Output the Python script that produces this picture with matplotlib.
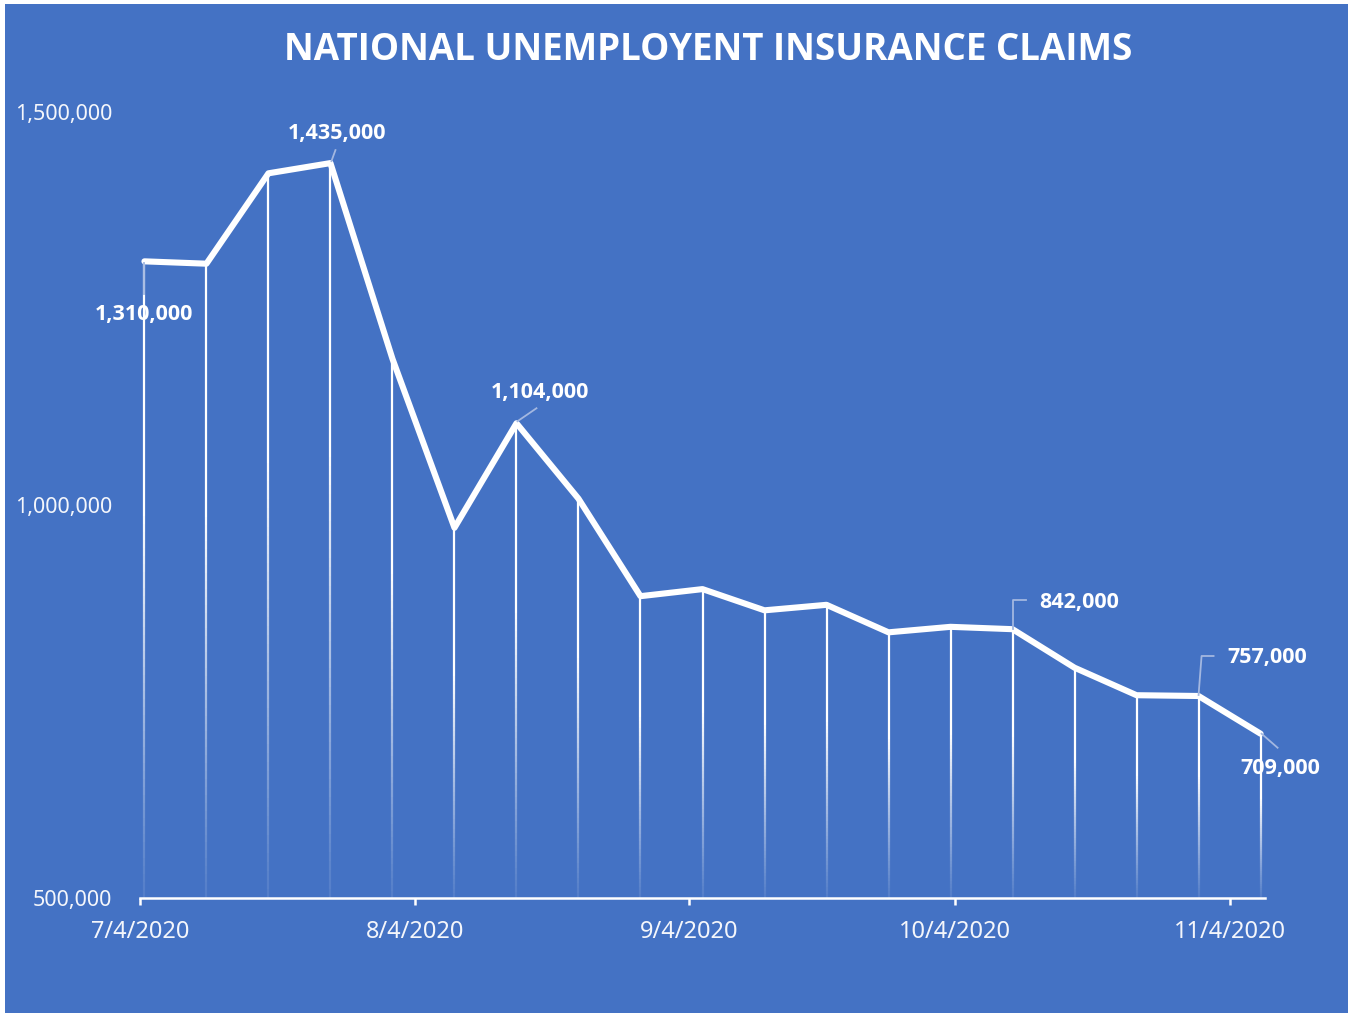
import numpy as np
import matplotlib
matplotlib.use("Agg")
import matplotlib.pyplot as plt
import matplotlib.dates as mdates
from matplotlib.collections import LineCollection
from matplotlib.patches import Rectangle
from matplotlib.lines import Line2D

# weekly initial claims, week ending dates
weeks = np.array(['2020-07-04', '2020-07-11', '2020-07-18', '2020-07-25', '2020-08-01',
                  '2020-08-08', '2020-08-15', '2020-08-22', '2020-08-29', '2020-09-05',
                  '2020-09-12', '2020-09-19', '2020-09-26', '2020-10-03', '2020-10-10',
                  '2020-10-17', '2020-10-24', '2020-10-31', '2020-11-07'], dtype='datetime64[D]')
claims = [1310000, 1307000, 1422000, 1435000, 1186000,
          971000, 1104000, 1008000, 884000, 893000,
          866000, 873000, 838000, 845000, 842000,
          793000, 758000, 757000, 709000]
labeled = ['2020-07-04', '2020-07-25', '2020-08-15', '2020-10-10', '2020-10-31', '2020-11-07']
tick_dates = ['2020-07-04', '2020-08-04', '2020-09-04', '2020-10-04', '2020-11-04']
y_ticks = [500000, 1000000, 1500000]

BLUE = '#4472C4'
LEADER = '#A3B7E0'

fig = plt.figure(figsize=(13.51, 10.17), dpi=100, facecolor='white')
fig.patches.append(Rectangle((5 / 1351, 1 - 1013 / 1017), 1343 / 1351, 1009 / 1017,
                             transform=fig.transFigure, facecolor=BLUE, edgecolor='none', zorder=-5))

ax = fig.add_axes([140 / 1351, 1 - 898 / 1017, 1125 / 1351, 786 / 1017])
ax.set_facecolor('none')
ax.set_zorder(1)

# points sit mid-day on the date axis
x = mdates.date2num(weeks.astype('datetime64[h]') + np.timedelta64(12, 'h'))
xmin = mdates.date2num(np.datetime64('2020-07-04'))
xmax = mdates.date2num(np.datetime64('2020-11-08'))
ax.set_xlim(xmin, xmax)
ax.set_ylim(500000, 1500000)

# drop lines fading out towards the axis
ymin = 500000
segs, cols = [], []
n = 80
for xi, yi in zip(x, claims):
    ys = np.linspace(ymin, yi, n + 1)
    for k in range(n):
        frac = (k + 0.5) / n
        a = float(np.clip(0.08 + 1.6 * frac ** 1.1, 0, 1))
        segs.append([(xi, ys[k]), (xi, ys[k + 1])])
        cols.append((1, 1, 1, a))
ax.add_collection(LineCollection(segs, colors=cols, linewidths=1.6, capstyle='butt', zorder=2))

ax.plot(x, claims, color='white', lw=4.4, solid_joinstyle='round', solid_capstyle='round', zorder=3)

# axes styling
for s in ['top', 'right', 'left']:
    ax.spines[s].set_visible(False)
ax.spines['bottom'].set_color('white')
ax.spines['bottom'].set_linewidth(1.8)
ax.set_xticks(mdates.date2num(np.array(tick_dates, dtype='datetime64[D]')))
ax.set_xticklabels([f'{int(d[5:7])}/{int(d[8:])}/{d[:4]}' for d in tick_dates],
                   fontfamily='Noto Sans', fontsize=17, color='#F4F6FB')
ax.tick_params(axis='x', colors='white', length=5, width=1.8, pad=11, labelcolor='#F4F6FB')
ax.set_yticks(y_ticks)
ax.set_yticklabels([f'{v:,}' for v in y_ticks], fontfamily='Noto Sans', fontsize=15.5, color='#F4F6FB')
ax.tick_params(axis='y', length=0, pad=20)

fig.text(708 / 1351, 1 - 50 / 1017, 'NATIONAL UNEMPLOYENT INSURANCE CLAIMS', ha='center', va='center',
         fontfamily='Open Sans', fontweight='bold', fontsize=26.5, color='white')

# data labels with leader lines (pixel offsets from the point, y up)
label_layout = {
    '2020-07-04': ((0, -53), 'center', [(0, -2), (0, -33)]),
    '2020-07-25': ((7, 30), 'center', [(1, 2), (5, 13)]),
    '2020-08-15': ((23, 31), 'center', [(1, 2), (20, 15)]),
    '2020-10-10': ((27, 27), 'left', [(0, 0), (0, 29), (13, 29)]),
    '2020-10-31': ((29, 38), 'left', [(0, 1), (3, 40), (15, 40)]),
    '2020-11-07': ((20, -35), 'center', [(1, 0), (17, -14)]),
}
fig.canvas.draw()
wk = [str(w) for w in weeks]
for d in labeled:
    i = wk.index(d)
    px, py = ax.transData.transform((x[i], claims[i]))
    (dx, dy), ha, path = label_layout[d]
    fig.text((px + dx) / 1351, (py + dy) / 1017, f'{claims[i]:,}', ha=ha, va='center',
             fontfamily='Open Sans', fontweight='bold', fontsize=15.5, color='white', zorder=5)
    fig.add_artist(Line2D([px + p[0] for p in path], [py + p[1] for p in path],
                          transform=None, color=LEADER, lw=1.3, zorder=4))

fig.savefig('out.png', dpi=100, facecolor='white')
